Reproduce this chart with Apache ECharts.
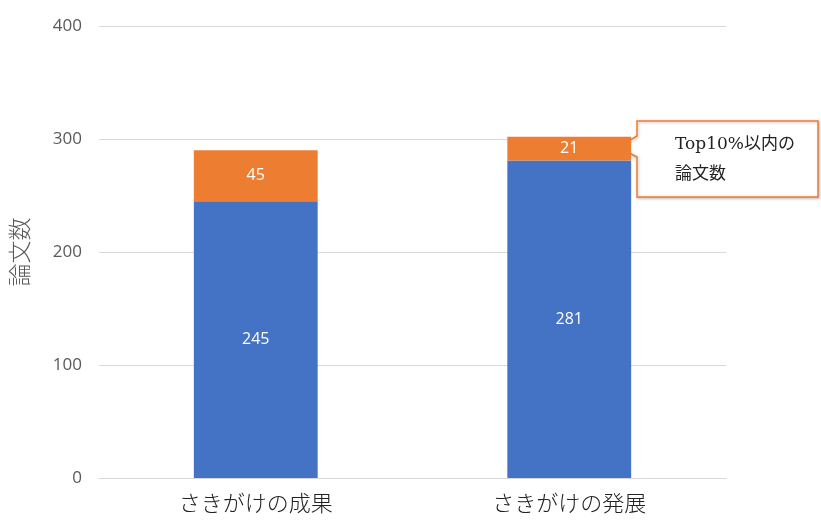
<!DOCTYPE html>
<html>
<head>
<meta charset="utf-8">
<script src="https://cdn.jsdelivr.net/npm/echarts@6/dist/echarts.min.js"></script>
<style>
html,body{margin:0;padding:0;background:#fff;}
#chart{width:821px;height:520px;}
</style>
</head>
<body>
<div id="chart"></div>
<script>
const categories = ['さきがけの成果', 'さきがけの発展'];
const baseValues = [245, 281];
const topValues = [45, 21];
const yTicks = { min: 0, max: 400, interval: 100 };
const axisName = '論文数';
const calloutLines = ['Top10%以内の', '論文数'];

const chart = echarts.init(document.getElementById('chart'));
const labelStyle = { show: true, position: 'inside', color: '#fff', fontSize: 16, fontFamily: 'Open Sans, sans-serif' };

chart.setOption({
  animation: false,
  grid: { left: 98, right: 95, top: 26, bottom: 42 },
  xAxis: {
    type: 'category',
    data: categories,
    axisLine: { lineStyle: { color: '#d9d9d9' } },
    axisTick: { show: false },
    axisLabel: { color: '#222', fontSize: 22, margin: 14, fontFamily: '"Noto Sans CJK JP", sans-serif', fontWeight: 300 }
  },
  yAxis: {
    type: 'value',
    min: yTicks.min, max: yTicks.max, interval: yTicks.interval,
    name: axisName,
    nameLocation: 'middle',
    nameGap: 68,
    nameRotate: 90,
    nameTextStyle: { color: '#595959', fontSize: 23, fontWeight: 300, fontFamily: '"Noto Sans CJK JP", sans-serif' },
    axisLine: { show: false },
    axisTick: { show: false },
    axisLabel: { color: '#595959', fontSize: 17, margin: 17, fontFamily: 'Open Sans, sans-serif' },
    splitLine: { lineStyle: { color: '#d9d9d9' } }
  },
  series: [
    { type: 'bar', stack: 'total', data: baseValues, barWidth: '39.5%', itemStyle: { color: '#4472C4' }, label: labelStyle },
    { type: 'bar', stack: 'total', data: topValues, barWidth: '39.5%', itemStyle: { color: '#ED7D31' }, label: labelStyle }
  ]
});

// callout box pointing at the top segment of the second bar
chart.setOption({
  graphic: [
    {
      type: 'polygon',
      shape: { points: [[637, 121], [818, 121], [818, 197], [637, 197], [637, 157], [618, 147], [637, 136]] },
      style: { fill: '#fff', stroke: '#ED7D31', lineWidth: 1.5, shadowBlur: 3, shadowColor: 'rgba(0,0,0,0.25)', shadowOffsetX: 1, shadowOffsetY: 1 }
    },
    {
      type: 'text', left: 675, top: 130,
      style: { text: calloutLines.join('\n'), fill: '#222', fontSize: 17, lineHeight: 30, fontFamily: '"DejaVu Serif", "Noto Sans CJK JP", serif' }
    }
  ]
});
</script>
</body>
</html>
